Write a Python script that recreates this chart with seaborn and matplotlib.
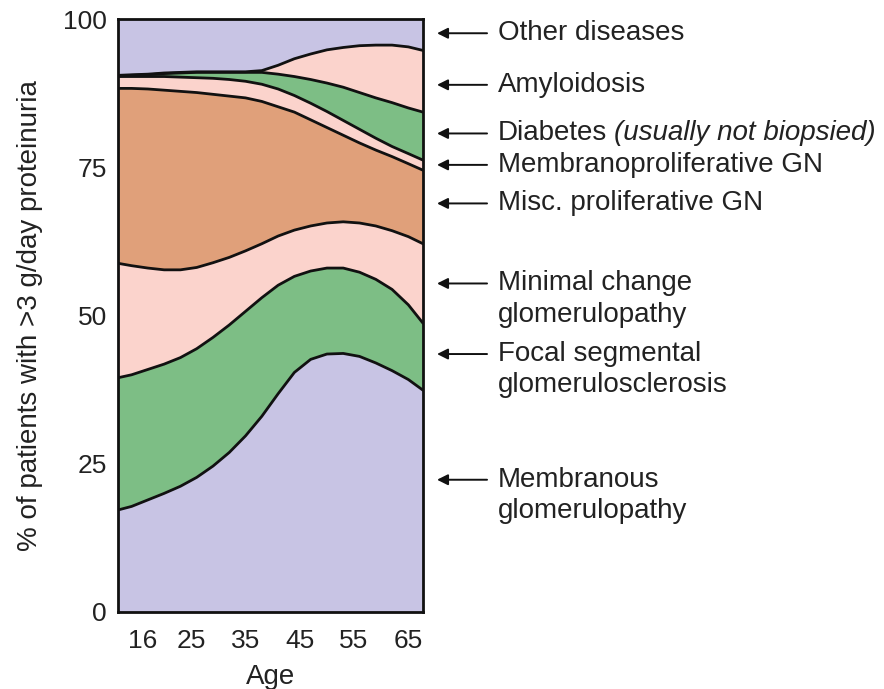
import numpy as np
import pandas as pd
import matplotlib
matplotlib.use("Agg")
import matplotlib.pyplot as plt
import seaborn as sns

AGES = [11.5, 14, 17, 20, 23, 26, 29, 32, 35, 38, 41, 44, 47, 50, 53, 56, 59, 62, 65, 67.7]

# cumulative upper edge of each band (% of patients), bottom to top
membranous_top = [17.2, 17.8, 18.9, 20.0, 21.2, 22.7, 24.6, 26.9, 29.7, 33.0,
                  36.8, 40.4, 42.6, 43.5, 43.6, 43.1, 42.0, 40.7, 39.2, 37.4]
fsgs_top = [39.5, 40.0, 40.9, 41.8, 42.9, 44.4, 46.3, 48.4, 50.7, 53.0,
            55.1, 56.6, 57.5, 58.0, 58.0, 57.3, 56.1, 54.4, 51.8, 48.7]
minimal_top = [58.8, 58.4, 58.0, 57.7, 57.7, 58.1, 58.9, 59.8, 60.9, 62.1,
               63.4, 64.4, 65.1, 65.6, 65.8, 65.6, 65.1, 64.3, 63.3, 62.1]
misc_top = [88.3, 88.3, 88.2, 88.0, 87.8, 87.6, 87.3, 87.0, 86.7, 86.1,
            85.2, 84.3, 83.0, 81.7, 80.4, 79.1, 77.9, 76.8, 75.6, 74.5]
mpgn_top = [90.3, 90.3, 90.3, 90.3, 90.2, 90.1, 90.0, 89.8, 89.5, 89.0,
            88.2, 87.1, 85.8, 84.4, 82.9, 81.4, 79.9, 78.5, 77.3, 76.2]
diabetes_top = [90.4, 90.5, 90.6, 90.8, 90.9, 91.0, 91.0, 91.0, 91.0, 91.0,
                90.7, 90.3, 89.8, 89.2, 88.5, 87.6, 86.7, 85.9, 85.0, 84.3]
amyloid_top = [90.5, 90.6, 90.7, 90.9, 91.0, 91.1, 91.1, 91.1, 91.1, 91.3,
               92.2, 93.3, 94.1, 94.8, 95.2, 95.5, 95.6, 95.6, 95.3, 94.7]
other_top = [100] * len(AGES)

AGE_TICKS = [16, 25, 35, 45, 55, 65]
Y_TICKS = [0, 25, 50, 75, 100]

# label text and the height (%) its arrow points at
LABELS = [
    "Other diseases",
    "Amyloidosis",
    "Diabetes",
    "Membranoproliferative GN",
    "Misc. proliferative GN",
    "Minimal change\nglomerulopathy",
    "Focal segmental\nglomerulosclerosis",
    "Membranous\nglomerulopathy",
]
LABEL_Y = [97.6, 88.9, 80.7, 75.4, 68.9, 55.4, 43.5, 22.3]

PURPLE = "#c8c4e4"
GREEN = "#7dbe85"
PINK = "#fbd3cc"
ORANGE = "#e0a07a"

sns.set_style("white")
plt.rcParams["font.family"] = ["Liberation Sans", "DejaVu Sans"]

df = pd.DataFrame({
    "age": AGES,
    "membranous": membranous_top,
    "fsgs": fsgs_top,
    "minimal": minimal_top,
    "misc": misc_top,
    "mpgn": mpgn_top,
    "diabetes": diabetes_top,
    "amyloid": amyloid_top,
    "other": other_top,
})
bands = ["membranous", "fsgs", "minimal", "misc", "mpgn", "diabetes", "amyloid", "other"]
colores = [PURPLE, GREEN, PINK, ORANGE, PINK, GREEN, PINK, PURPLE]

fig = plt.figure(figsize=(8.84, 6.89), dpi=100)
ax = fig.add_axes([0.1335, 0.1118, 0.345, 0.8606])

lower = np.zeros(len(df))
for b, c in zip(bands, colores):
    ax.fill_between(df["age"], lower, df[b], color=c, lw=0)
    lower = df[b].values

for b in bands[:-1]:
    sns.lineplot(data=df, x="age", y=b, ax=ax, color="#111111", lw=2.0)

ax.set_xlim(AGES[0], AGES[-1])
ax.set_ylim(0, 100)
ax.set_xticks(AGE_TICKS)
ax.set_yticks(Y_TICKS)
ax.tick_params(axis="x", length=0, pad=12, labelsize=19, colors="#222222")
ax.tick_params(axis="y", length=0, pad=8, labelsize=19, colors="#222222")
for s in ax.spines.values():
    s.set_color("#111111")
    s.set_linewidth(2.0)

ax.set_xlabel("Age", fontsize=20, color="#222222", labelpad=8)
ax.set_ylabel("% of patients with >3 g/day proteinuria", fontsize=20, color="#222222")
ax.yaxis.set_label_coords(-0.245, 0.5)

# arrows + labels on the right
for txt, yv in zip(LABELS, LABEL_Y):
    ax.annotate("", xy=(1.046, yv), xytext=(1.21, yv),
                xycoords=("axes fraction", "data"),
                arrowprops=dict(arrowstyle="-|>", color="#111111", lw=1.4,
                                mutation_scale=16, shrinkA=0, shrinkB=0),
                annotation_clip=False)
    for k, line in enumerate(txt.split("\n")):
        ax.annotate(line, xy=(1.246, yv), xycoords=("axes fraction", "data"),
                    xytext=(0, -22.5 * k), textcoords="offset points",
                    fontsize=20, color="#222222", va="center", ha="left",
                    annotation_clip=False)

# italic note after "Diabetes"
fig.canvas.draw()
diab = [t for t in ax.texts if t.get_text() == "Diabetes"][0]
bb = diab.get_window_extent()
fig.text(bb.x1 + 7, (bb.y0 + bb.y1) / 2, "(usually not biopsied)",
         transform=None, fontsize=20, fontstyle="italic", color="#222222",
         va="center", ha="left")

fig.savefig("out.png", dpi=100)
